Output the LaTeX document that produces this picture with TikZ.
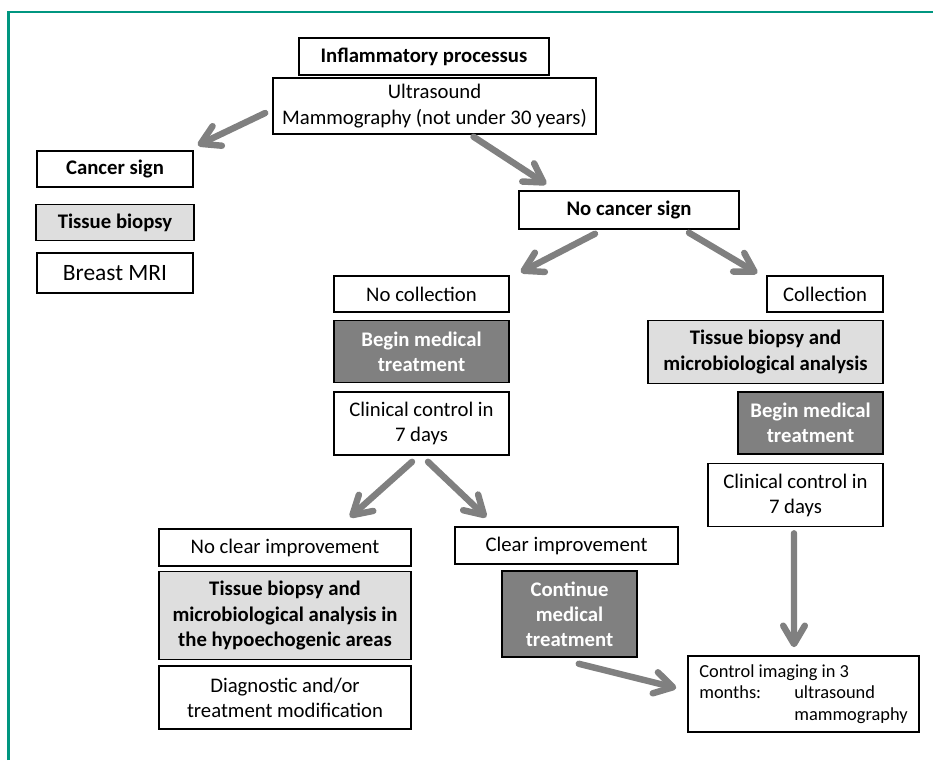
\documentclass[tikz,border=0pt]{standalone}
\usepackage{fontspec}
\setmainfont{Carlito}
\usetikzlibrary{positioning,calc,arrows.meta}
\definecolor{frameteal}{RGB}{0,150,128}
\definecolor{boxlight}{RGB}{222,222,222}
\definecolor{boxdark}{RGB}{128,128,128}
\definecolor{arrowgray}{RGB}{128,128,128}

\begin{document}
\begin{tikzpicture}[x=0.03cm, y=-0.03cm,
    box/.style={draw, line width=1.3pt, align=center, inner sep=2pt,
                font=\fontsize{17.7}{21.5}\selectfont},
    boldbox/.style={box, font=\fontsize{17.7}{21.5}\selectfont\bfseries},
    lightbox/.style={boldbox, fill=boxlight},
    darkbox/.style={boldbox, fill=boxdark, text=white},
    arr/.style={draw=arrowgray, line width=5.5pt, line cap=round,
                -{Straight Barb[length=0.55cm, width=0.65cm, round]}}]
    \useasboundingbox (0,0) rectangle (933,760);
    \draw[frameteal, line width=2.5pt] (8.5,760) -- (8.5,12) -- (933,12);

    % top
    \node[boldbox, minimum width=7.5cm, minimum height=1.11cm] (infl) at (424,56.5) {Inflammatory processus};
    \node[box, minimum width=9.69cm, minimum height=1.68cm] (us) at (434.5,106) {Ultrasound\\Mammography (not under 30 years)};

    % cancer branch
    \node[boldbox, minimum width=4.68cm, minimum height=1.08cm] (cancer) at (115,169) {Cancer sign};
    \node[lightbox, minimum width=4.74cm, minimum height=1.08cm, below=0.48cm of cancer] (cbiop) {Tissue biopsy};
    \node[box, font=\fontsize{20}{24}\selectfont, minimum width=4.68cm, minimum height=1.2cm, below=0.33cm of cbiop] (mri) {Breast MRI};

    \node[boldbox, minimum width=6.6cm, minimum height=1.14cm] (nocancer) at (629,210) {No cancer sign};

    % no collection
    \node[box, minimum width=5.25cm, minimum height=1.08cm] (nocoll) at (421.5,294) {No collection};
    \node[darkbox, minimum width=5.25cm, minimum height=1.86cm, below=0.21cm of nocoll] (beginL) {Begin medical\\treatment};
    \node[box, minimum width=5.25cm, minimum height=1.89cm, below=0.24cm of beginL] (clinL) {Clinical control in\\7 days};

    % collection
    \node[box, minimum width=3.48cm, minimum height=1.08cm] (coll) at (825,294) {Collection};
    \node[lightbox, minimum width=7.05cm, minimum height=1.89cm, below=0.21cm of coll.south east, anchor=north east] (tbmR) {Tissue biopsy and\\microbiological analysis};
    \node[darkbox, minimum width=4.35cm, minimum height=1.86cm, below=0.21cm of tbmR.south east, anchor=north east] (beginR) {Begin medical\\treatment};
    \node[box, minimum width=5.25cm, minimum height=1.89cm, below=0.24cm of beginR.south east, anchor=north east] (clinR) {Clinical control in\\7 days};

    % after 7 days
    \node[box, minimum width=7.56cm, minimum height=1.11cm] (noclear) at (285,547.5) {No clear improvement};
    \node[lightbox, minimum width=7.56cm, minimum height=2.64cm, below=0.12cm of noclear] (tbmL) {Tissue biopsy and\\microbiological analysis in\\the hypoechogenic areas};
    \node[box, minimum width=7.56cm, minimum height=1.89cm, below=0.15cm of tbmL] (diag) {Diagnostic and/or\\treatment modification};

    \node[box, minimum width=6.69cm, minimum height=1.11cm] (clear) at (566.5,545.5) {Clear improvement};
    \node[darkbox, minimum width=4.05cm, minimum height=2.58cm] (cont) at (569.5,614) {Continue\\medical\\treatment};

    \node[box, align=left, font=\fontsize{15.7}{18.5}\selectfont, minimum width=6.93cm, minimum height=2.28cm] (ctrl) at (803.5,694)
        {Control imaging in 3\\\makebox[2.85cm][l]{months:}ultrasound\\\hspace*{2.85cm}mammography};

    % arrows
    \draw[arr] ($(us.west)+(-7,7)$) -- ($(cancer.north east)+(4,-5)$);
    \draw[arr] ($(us.south)+(39,2)$) -- ($(nocancer.north west)+(28,-6)$);
    \draw[arr] ($(nocancer.south)+(-34,4)$) -- ($(nocoll.north east)+(11,-3)$);
    \draw[arr] ($(nocancer.south)+(60,3)$) -- ($(coll.north west)+(-9,-2)$);
    \draw[arr] ($(clinL.south)+(-9.5,6)$) -- ($(noclear.north)+(65,-11)$);
    \draw[arr] ($(clinL.south)+(6.5,6)$) -- ($(clear.north west)+(32,-9)$);
    \draw[arr] ($(clinR.south)+(-1.5,6)$) -- ($(ctrl.north)+(-9.5,-8)$);
    \draw[arr] ($(cont.south east)+(-59,6)$) -- ($(ctrl.west)+(-11,-6)$);
\end{tikzpicture}
\end{document}
